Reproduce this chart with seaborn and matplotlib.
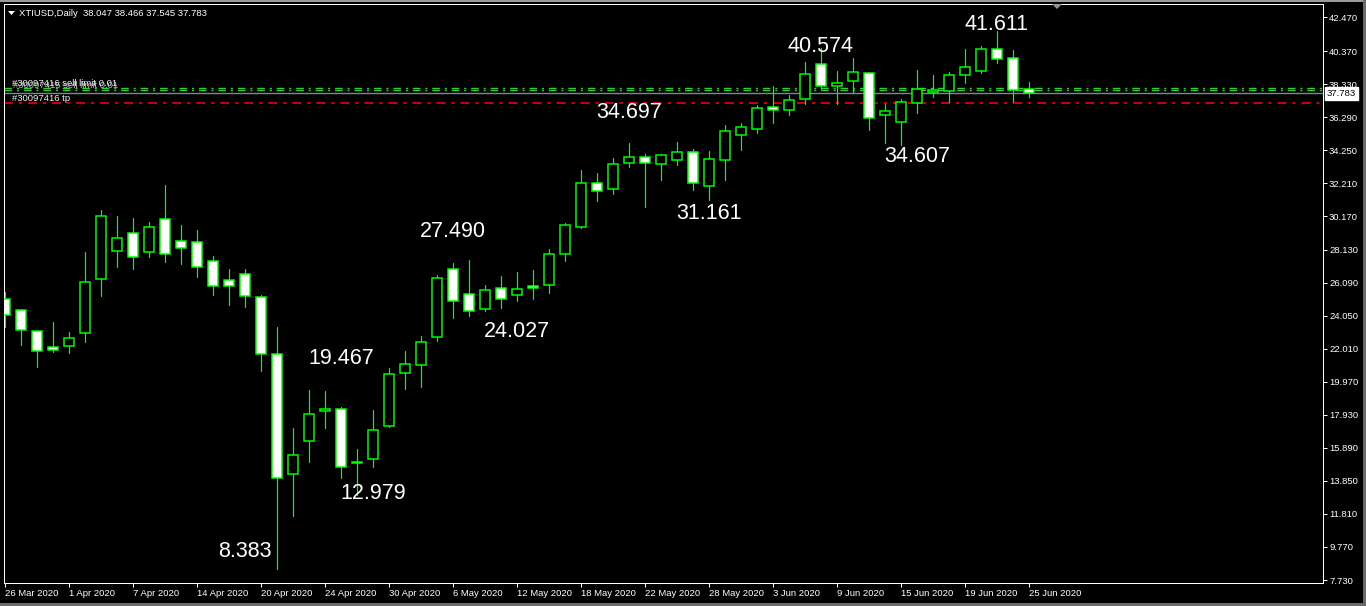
import numpy as np
import pandas as pd
import matplotlib
matplotlib.use("Agg")
import matplotlib.pyplot as plt
import seaborn as sns
from matplotlib.transforms import blended_transform_factory
from matplotlib.patches import Polygon, Rectangle

# ---------------- data (daily XTIUSD candles, 26 Mar 2020 .. 25 Jun 2020) ----------------
OPEN = [25.06, 24.38, 23.08, 22.09, 22.20, 23.00, 26.29, 28.02, 29.13, 27.96,
        30.00, 28.64, 28.58, 27.40, 26.23, 26.64, 25.22, 21.66, 14.25, 16.29,
        18.14, 18.27, 14.97, 15.22, 17.25, 20.49, 20.98, 22.75, 26.91, 25.37,
        24.48, 25.74, 25.30, 25.85, 25.92, 27.87, 29.54, 32.22, 31.88, 33.45,
        33.86, 33.39, 33.67, 34.13, 32.07, 33.67, 35.18, 35.59, 36.93, 36.72,
        37.40, 39.56, 38.24, 38.51, 39.01, 36.41, 35.98, 37.19, 37.83, 37.90,
        38.88, 39.17, 40.49, 39.93, 38.047]
HIGH = [25.53, 24.48, 23.10, 23.66, 23.04, 27.98, 30.57, 30.20, 30.06, 29.81,
        32.11, 29.64, 29.33, 27.73, 26.93, 26.93, 25.30, 23.35, 17.11, 19.467,
        19.38, 18.39, 15.80, 18.22, 20.83, 21.87, 22.77, 26.56, 27.30, 27.490,
        25.94, 26.50, 26.74, 26.87, 28.16, 29.77, 33.04, 32.85, 33.76, 34.697,
        34.01, 34.03, 34.78, 34.32, 34.21, 35.82, 35.92, 37.05, 38.22, 37.67,
        39.71, 40.574, 39.15, 39.93, 39.11, 37.09, 37.40, 39.21, 38.90, 39.09,
        40.51, 40.69, 41.611, 40.45, 38.466]
LOW = [23.33, 22.25, 20.90, 21.82, 21.76, 22.44, 25.28, 27.07, 26.95, 27.69,
       27.38, 27.25, 26.45, 25.34, 24.72, 24.60, 20.65, 8.383, 11.70, 15.03,
       17.13, 14.01, 12.979, 14.72, 17.20, 19.54, 19.66, 22.50, 23.92, 24.027,
       24.35, 24.54, 24.97, 25.09, 25.46, 27.42, 29.48, 31.10, 31.56, 33.24,
       30.77, 32.42, 33.35, 31.82, 31.161, 32.44, 34.27, 35.34, 35.96, 36.45,
       37.09, 38.02, 37.09, 37.81, 35.51, 34.68, 34.607, 36.54, 37.53, 37.25,
       38.39, 39.04, 39.63, 37.25, 37.545]
CLOSE = [24.07, 23.14, 21.85, 21.91, 22.69, 26.11, 30.18, 28.82, 27.65, 29.50,
         27.84, 28.21, 27.07, 25.90, 25.85, 25.24, 21.66, 14.01, 15.43, 17.96,
         18.27, 14.69, 15.00, 16.97, 20.43, 21.04, 22.44, 26.35, 24.93, 24.32,
         25.61, 25.06, 25.67, 25.74, 27.83, 29.63, 32.22, 31.72, 33.39, 33.82,
         33.45, 33.95, 34.13, 32.22, 33.70, 35.43, 35.67, 36.85, 36.73, 37.34,
         38.95, 38.22, 38.41, 39.09, 36.23, 36.66, 37.22, 38.02, 37.96, 38.88,
         39.38, 40.49, 39.87, 37.96, 37.783]

DATE_LABELS = ["26 Mar 2020", "1 Apr 2020", "7 Apr 2020", "14 Apr 2020", "20 Apr 2020",
               "24 Apr 2020", "30 Apr 2020", "6 May 2020", "12 May 2020", "18 May 2020",
               "22 May 2020", "28 May 2020", "3 Jun 2020", "9 Jun 2020", "15 Jun 2020",
               "19 Jun 2020", "25 Jun 2020"]
PRICE_TICKS = [7.730, 9.770, 11.810, 13.850, 15.890, 17.930, 19.970, 22.010, 24.050,
               26.090, 28.130, 30.170, 32.210, 34.250, 36.290, 38.330, 40.370, 42.470]

SYMBOL = "XTIUSD,Daily"
BID = 37.783
SELL_LIMIT_LEVELS = [38.10, 37.95]
TP_LEVEL = 37.18
ORDER_TEXTS = ["#30097416 sell limit 0.01", "#30097415 sell limit 0.01"]
TP_TEXT = "#30097416 tp"

# swing annotations (value labels)
ANNOT_VALUES = ["41.611", "40.574", "34.697", "34.607", "31.161",
                "27.490", "24.027", "19.467", "12.979", "8.383"]

# ---------------- layout / style ----------------
ANNOT_POS = [(61.92, 42.05), (50.98, 40.69), (39.0, 36.56), (56.98, 33.90), (43.95, 30.38),
             (27.97, 29.27), (31.95, 23.10), (21.0, 21.43), (23.0, 13.04), (14.98, 9.52)]

W, H = 1366, 606
PX = 0.72  # one pixel in points at dpi 100
LIME = "#00ff00"

sns.set_theme(style="dark", rc={"axes.facecolor": "black", "figure.facecolor": "black",
                                "axes.grid": False})
plt.rcParams["font.family"] = ["Liberation Sans", "DejaVu Sans"]
plt.rcParams["lines.scale_dashes"] = False

fig = plt.figure(figsize=(W / 100, H / 100), dpi=100, facecolor="black")
L, R, T, B = 4, 1323, 4, 583
ax = fig.add_axes([L / W, 1 - B / H, (R - L) / W, (B - T) / H])
ax.set_facecolor("black")

n = len(OPEN)
idx = np.arange(n)
o = np.array(OPEN); c = np.array(CLOSE); hi = np.array(HIGH); lo = np.array(LOW)

# wicks via seaborn (one line per bar)
wick_df = pd.DataFrame({
    "bar": np.repeat(idx, 2),
    "price": np.ravel(np.column_stack([lo, hi])),
})
sns.lineplot(data=wick_df, x="bar", y="price", units="bar", estimator=None, sort=False,
             color=LIME, linewidth=1.2 * PX, ax=ax, legend=False, zorder=2)

# bodies
bear = c < o
bottoms = np.minimum(o, c)
heights = np.abs(c - o)
ax.bar(idx[bear], heights[bear], bottom=bottoms[bear], width=0.62, color="white",
       edgecolor=LIME, linewidth=1.5 * PX, zorder=3)
ax.bar(idx[~bear], heights[~bear], bottom=bottoms[~bear], width=0.62, color="black",
       edgecolor=LIME, linewidth=1.5 * PX, zorder=3)

# order / price lines
ax.axhline(SELL_LIMIT_LEVELS[0], color="#32cd32", lw=1.4 * PX, dashes=(5.5, 3.5, 1.5, 3.5), zorder=1)
ax.axhline(SELL_LIMIT_LEVELS[1], color="#32cd32", lw=1.4 * PX, dashes=(5.5, 3.5, 1.5, 3.5), zorder=1)
ax.axhline(BID, color="#778899", lw=1.4 * PX, zorder=1)
ax.axhline(TP_LEVEL, color="#ff0000", lw=1.6 * PX, dashes=(6.5, 4.3, 2.2, 4.3), zorder=1)

small = 6.8
btf = blended_transform_factory(ax.transAxes, ax.transData)
ax.text(0.006, 38.35, ORDER_TEXTS[0], transform=btf,
        color="#f0f0f0", fontsize=small, ha="left", va="center", zorder=5)
ax.text(0.0068, 38.28, ORDER_TEXTS[1], transform=btf,
        color="#d8d8d8", fontsize=small, ha="left", va="center", zorder=5, alpha=0.85)
ax.text(0.006, 37.45, TP_TEXT, transform=btf,
        color="#f0f0f0", fontsize=small, ha="left", va="center", zorder=5)

# swing value labels
for txt, (xp, yp) in zip(ANNOT_VALUES, ANNOT_POS):
    ax.text(xp, yp, txt, color="white", fontsize=15.5, ha="center", va="center", zorder=6)

# axes limits (pixel-matched)
ax.set_xlim((L - 5.3) / 16, (R - 5.3) / 16)
ax.set_ylim(7.73 - (B - 580) / 16.2, 7.73 + (580 - T) / 16.2)

# spines
for s in ax.spines.values():
    s.set_color("white")
    s.set_linewidth(1.0 * PX)
    s.set_visible(True)

# y axis on right
ax.yaxis.tick_right()
ax.set_yticks(PRICE_TICKS)
ax.set_yticklabels([f"{v:.3f}" for v in PRICE_TICKS])
ax.tick_params(axis="y", which="both", right=True, left=False, direction="out", length=4 * PX,
               width=1.0 * PX, colors="white", labelsize=small, pad=2 * PX)

ax.set_xticks(np.arange(0, n, 4))
ax.set_xticklabels(DATE_LABELS, ha="left")
ax.tick_params(axis="x", which="both", bottom=True, direction="out", length=4 * PX,
               width=1.0 * PX, colors="white", labelsize=small, pad=1.5 * PX)
for lab in ax.get_xticklabels():
    lab.set_horizontalalignment("left")
ax.set_xlabel("")
ax.set_ylabel("")

# current bid price box
ax.text(1.0 + 4 / (R - L), BID, f"{BID:.3f}", transform=btf,
        color="black", fontsize=small, ha="left", va="center", zorder=7,
        bbox=dict(boxstyle="square,pad=0.2", facecolor="white", edgecolor="white"), clip_on=False)

# title
fig.text(19 / W, 1 - 13 / H, f"{SYMBOL}  {OPEN[-1]:.3f} {HIGH[-1]:.3f} {LOW[-1]:.3f} {CLOSE[-1]:.3f}",
         color="white", fontsize=small, ha="left", va="center")

def fpoly(pts, color):
    fig.patches.append(Polygon([(x / W, 1 - y / H) for x, y in pts], closed=True,
                               transform=fig.transFigure, facecolor=color, edgecolor="none"))

fpoly([(8, 11), (15, 11), (11.5, 15)], "white")
fpoly([(1052, 4), (1062, 4), (1057, 9)], "#8a96a0")

# window border strips
fig.patches.append(Rectangle((0, 1 - 2 / H), 1, 2 / H, transform=fig.transFigure,
                             facecolor="#9a9a9a", edgecolor="none"))
fig.patches.append(Rectangle((1 - 3 / W, 0), 3 / W, 1, transform=fig.transFigure,
                             facecolor="#6a6a6a", edgecolor="none"))
fig.patches.append(Rectangle((0, 0), 1, 3 / H, transform=fig.transFigure,
                             facecolor="#6a6a6a", edgecolor="none"))

fig.savefig("out.png", dpi=100, facecolor="black")
